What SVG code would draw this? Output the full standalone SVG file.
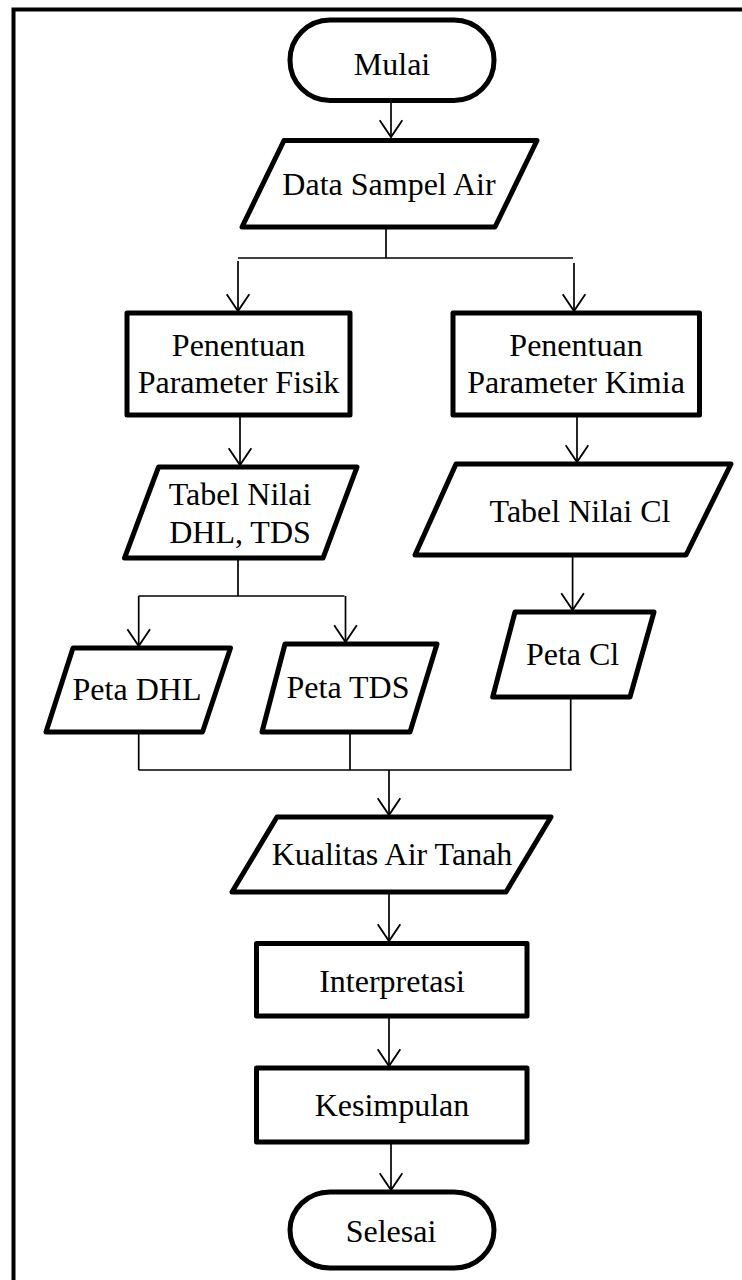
<svg xmlns="http://www.w3.org/2000/svg" width="742" height="1280" viewBox="0 0 742 1280">
  <style>
    .shape { fill: #ffffff; stroke: #000000; stroke-width: 5; stroke-linejoin: round; }
    .frame { fill: none; stroke: #000000; stroke-width: 4; }
    .conn { fill: none; stroke: #000000; stroke-width: 1.7; }
    .arrow { marker-end: url(#open-arrow); }
    text { font-family: "Liberation Serif", "Times New Roman", serif; font-size: 32px; fill: #000000; text-anchor: middle; }
  </style>
  <defs>
    <marker id="open-arrow" markerUnits="userSpaceOnUse" orient="auto" markerWidth="24" markerHeight="28" viewBox="-18 -13 20 26" refX="0" refY="0" overflow="visible">
      <path d="M -15.5 -10.5 L 0 0 L -15.5 10.5" fill="none" stroke="#000000" stroke-width="1.7"/>
    </marker>
  </defs>

  <rect width="742" height="1280" fill="#ffffff"/>

  <!-- page frame (top and left edges) -->
  <path class="frame" d="M 13.5 1280 V 9.5 H 742"/>

  <!-- connectors -->
  <g id="connectors">
    <path class="conn arrow" d="M 391 102 V 137"/>
    <path class="conn" d="M 386 227 V 258"/>
    <path class="conn" d="M 238 258 H 573"/>
    <path class="conn arrow" d="M 238 261 V 311"/>
    <path class="conn arrow" d="M 574 263 V 311"/>
    <path class="conn arrow" d="M 240 415 V 465"/>
    <path class="conn arrow" d="M 577 415 V 462"/>
    <path class="conn" d="M 238 558 V 596"/>
    <path class="conn" d="M 138.7 596 H 344.5"/>
    <path class="conn arrow" d="M 138.7 596 V 646"/>
    <path class="conn arrow" d="M 345.5 596 V 642"/>
    <path class="conn arrow" d="M 572.6 555 V 610"/>
    <path class="conn" d="M 138.7 732 V 770"/>
    <path class="conn" d="M 350 732 V 770"/>
    <path class="conn" d="M 570.7 693 V 770"/>
    <path class="conn" d="M 138.7 770 H 571.7"/>
    <path class="conn arrow" d="M 389 770 V 815"/>
    <path class="conn arrow" d="M 389 892 V 941"/>
    <path class="conn arrow" d="M 389 1016 V 1066"/>
    <path class="conn arrow" d="M 391 1142 V 1190"/>
  </g>

  <g id="mulai">
    <rect class="shape" x="290" y="20" width="204" height="80.5" rx="40" ry="40"/>
    <text x="392" y="75">Mulai</text>
  </g>

  <g id="data-sampel-air">
    <polygon class="shape" points="284,140.5 537,140.5 495,227 242,227"/>
    <text x="389" y="195">Data Sampel Air</text>
  </g>

  <g id="parameter-fisik">
    <rect class="shape" x="127" y="313" width="223" height="102"/>
    <text x="238.5" y="356">Penentuan</text>
    <text x="238.5" y="393">Parameter Fisik</text>
  </g>

  <g id="parameter-kimia">
    <rect class="shape" x="453" y="313" width="246.5" height="102"/>
    <text x="576" y="356">Penentuan</text>
    <text x="576" y="393">Parameter Kimia</text>
  </g>

  <g id="tabel-dhl-tds">
    <polygon class="shape" points="158.5,467 357,467 323,558 124.5,558"/>
    <text x="240" y="505">Tabel Nilai</text>
    <text x="240" y="543">DHL, TDS</text>
  </g>

  <g id="tabel-cl">
    <polygon class="shape" points="456,464 731,464 686,555 415,555"/>
    <text x="580" y="522">Tabel Nilai Cl</text>
  </g>

  <g id="peta-dhl">
    <polygon class="shape" points="73,648 230.5,648 202.5,732 46,732"/>
    <text x="137" y="700">Peta DHL</text>
  </g>

  <g id="peta-tds">
    <polygon class="shape" points="285,644 437,644 410,732 262,732"/>
    <text x="348" y="698">Peta TDS</text>
  </g>

  <g id="peta-cl">
    <polygon class="shape" points="515,612 654,612 630,697 492.7,697"/>
    <text x="572.6" y="665">Peta Cl</text>
  </g>

  <g id="kualitas-air-tanah">
    <polygon class="shape" points="277,817 551,817 506,892 232,892"/>
    <text x="392" y="865">Kualitas Air Tanah</text>
  </g>

  <g id="interpretasi">
    <rect class="shape" x="256.5" y="943.5" width="270.5" height="72.5"/>
    <text x="392" y="992">Interpretasi</text>
  </g>

  <g id="kesimpulan">
    <rect class="shape" x="256.5" y="1068" width="270.5" height="74"/>
    <text x="392" y="1116">Kesimpulan</text>
  </g>

  <g id="selesai">
    <rect class="shape" x="290" y="1192" width="204" height="76" rx="40" ry="38"/>
    <text x="391" y="1242">Selesai</text>
  </g>
</svg>
